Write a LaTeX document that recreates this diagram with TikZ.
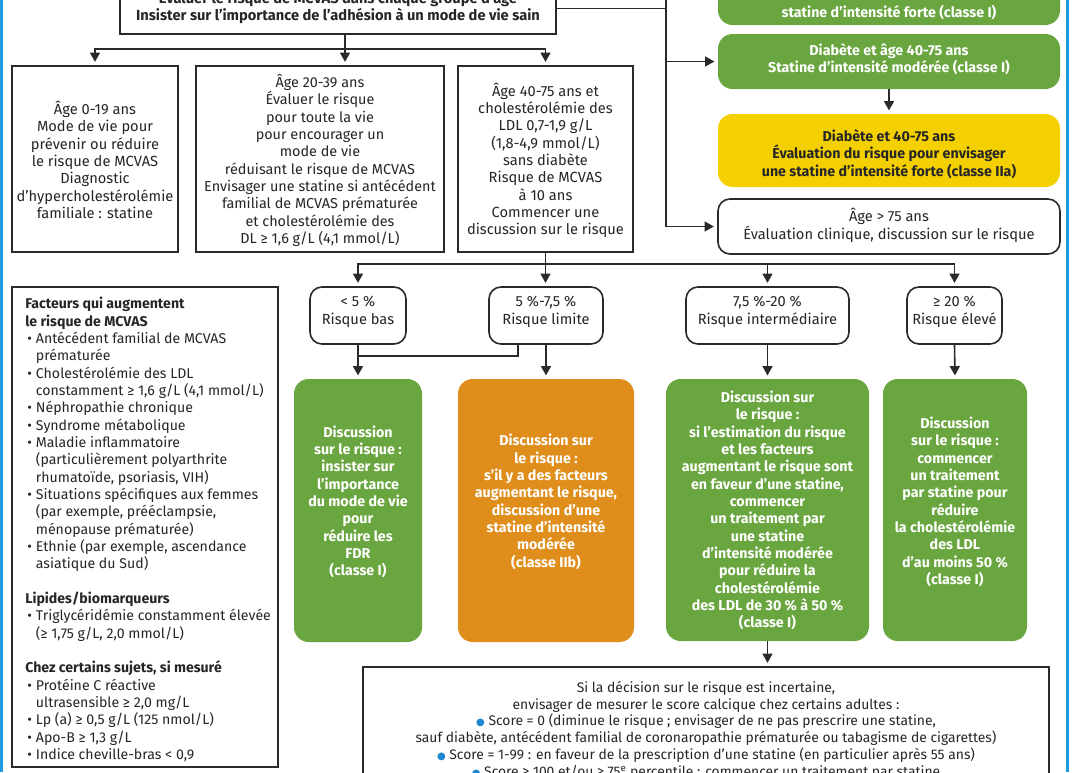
\documentclass[tikz,border=0pt]{standalone}
\usepackage{fontspec}
\setmainfont{Fira Sans}
\newfontfamily\dejavu{DejaVu Sans}
\usetikzlibrary{fit,arrows.meta}
\definecolor{grn}{HTML}{6AA640}
\definecolor{org}{HTML}{DF8E1C}
\definecolor{yel}{HTML}{F5D000}
\definecolor{edgeblue}{HTML}{1E9BE0}
\definecolor{dotblue}{HTML}{1F86CF}
\definecolor{lc}{HTML}{2A2A2A}
\definecolor{tc}{HTML}{262626}
\newcommand{\bdot}{{\dejavu\fontsize{7.5}{9}\selectfont\textcolor{dotblue}{●}}}
\newcommand{\facbul}{\makebox[8pt][l]{\hspace{1.5pt}•}}
\newcommand{\facind}{\makebox[8pt]{}}
\begin{document}
\begin{tikzpicture}[x=0.75pt,y=-0.75pt,
  every node/.style={text=tc},
  base/.style={font=\fontsize{11}{13}\selectfont, align=center, inner sep=0pt},
  sbox/.style={inner sep=0pt, draw=lc, line width=1.2pt},
  rbox/.style={sbox, rounded corners=9pt},
  cbox/.style={inner sep=0pt, rounded corners=11pt, draw=none},
  ctext/.style={base, font=\fontsize{10.7}{13}\selectfont\bfseries, text=white},
  wire/.style={draw=lc, line width=1.2pt},
  arr/.style={wire, -{Triangle[width=7.5pt,length=7pt]}, shorten >=2.5pt}]
\useasboundingbox (0,0) rectangle (1072,772);
\clip (0,0) rectangle (1072,772);
\fill[white] (0,0) rectangle (1072,772);
\fill[edgeblue] (0,0) rectangle (3,772);
\fill[edgeblue] (1066,0) rectangle (1069,772);

% top box
\node[sbox, fit={(120,-21) (556,34)}] (top) {};
\node[base, font=\fontsize{11}{13}\selectfont\bfseries] (topt) at (338,6.5)
  {Évaluer le risque de MCVAS dans chaque groupe d'âge\\Insister sur l'importance de l'adhésion à un mode de vie sain};

% age boxes
\node[sbox, fit={(12,66) (178,252)}] (b1) {};
\node[base] (b1t) at (95,160) {Âge 0-19 ans\\Mode de vie pour\\prévenir ou réduire\\le risque de MCVAS\\Diagnostic\\d'hypercholestérolémie\\familiale : statine};
\node[sbox, fit={(196,66) (444,252)}] (b2) {};
\node[base, font=\fontsize{10.8}{13}\selectfont] (b2t) at (320,160.5) {Âge 20-39 ans\\Évaluer le risque\\pour toute la vie\\pour encourager un\\mode de vie\\réduisant le risque de MCVAS\\Envisager une statine si antécédent\\familial de MCVAS prématurée\\et cholestérolémie des\\DL ≥ 1,6 g/L (4,1 mmol/L)};
\node[sbox, fit={(458,66) (633,252)}] (b3) {};
\node[base] (b3t) at (545.5,160.5) {Âge 40-75 ans et\\cholestérolémie des\\LDL 0,7-1,9 g/L\\(1,8-4,9 mmol/L)\\sans diabète\\Risque de MCVAS\\à 10 ans\\Commencer une\\discussion sur le risque};

% right column
\node[cbox, fill=grn, fit={(718,-30) (1060,25)}] (g0) {};
\node[ctext] (g0t) at (889,12.5) {statine d'intensité forte (classe I)};
\node[cbox, fill=grn, fit={(718,34) (1060,89)}] (g2) {};
\node[ctext] (g2t) at (889,59.5) {Diabète et âge 40-75 ans\\Statine d'intensité modérée (classe I)};
\node[cbox, fill=yel, fit={(718,114) (1060,187)}] (y) {};
\node[ctext, text=tc] (yt) at (889,154) {Diabète et 40-75 ans\\Évaluation du risque pour envisager\\une statine d'intensité forte (classe IIa)};
\node[rbox, fit={(718,199) (1060,254)}] (a75) {};
\node[base] (a75t) at (889,225.5) {Âge > 75 ans\\Évaluation clinique, discussion sur le risque};

% risk boxes
\node[rbox, fit={(310,287) (406,344)}] (r1) {};
\node[base] (r1t) at (358,312) {< 5 \%\\Risque bas};
\node[rbox, fit={(489,287) (603,344)}] (r2) {};
\node[base] (r2t) at (546,312) {5 \%-7,5 \%\\Risque limite};
\node[rbox, fit={(686,287) (849,344)}] (r3) {};
\node[base] (r3t) at (767.5,312) {7,5 \%-20 \%\\Risque intermédiaire};
\node[rbox, fit={(907,287) (1002,344)}] (r4) {};
\node[base] (r4t) at (954.5,312) {≥ 20 \%\\Risque élevé};

% coloured boxes
\node[cbox, fill=grn, fit={(294,379) (422,642)}] (g1) {};
\node[ctext] (g1t) at (358,502) {Discussion\\sur le risque :\\insister sur\\l'importance\\du mode de vie\\pour\\réduire les\\FDR\\(classe I)};
\node[cbox, fill=org, fit={(458,379) (634,642)}] (o2) {};
\node[ctext] (o2t) at (546,502) {Discussion sur\\le risque :\\s'il y a des facteurs\\augmentant le risque,\\discussion d'une\\statine d'intensité\\modérée\\(classe IIb)};
\node[cbox, fill=grn, fit={(666,379) (869,641)}] (g3) {};
\node[ctext] (g3t) at (767.5,510.5) {Discussion sur\\le risque :\\si l'estimation du risque\\et les facteurs\\augmentant le risque sont\\en faveur d'une statine,\\commencer\\un traitement par\\une statine\\d'intensité modérée\\pour réduire la\\cholestérolémie\\des LDL de 30 \% à 50 \%\\(classe I)};
\node[cbox, fill=grn, fit={(883,379) (1027,641)}] (g4) {};
\node[ctext] (g4t) at (955,502) {Discussion\\sur le risque :\\commencer\\un traitement\\par statine pour\\réduire\\la cholestérolémie\\des LDL\\d'au moins 50 \%\\(classe I)};

% factors box
\node[sbox, fit={(12,287) (278,767)}] (fac) {};
\node[base, font=\fontsize{10.6}{13}\selectfont, align=left, anchor=north west] (fact) at (25,297) {%
\textbf{Facteurs qui augmentent}\\
\textbf{le risque de MCVAS}\\
\facbul Antécédent familial de MCVAS\\
\facind prématurée\\
\facbul Cholestérolémie des LDL\\
\facind constamment ≥ 1,6 g/L (4,1 mmol/L)\\
\facbul Néphropathie chronique\\
\facbul Syndrome métabolique\\
\facbul Maladie inflammatoire\\
\facind (particulièrement polyarthrite\\
\facind rhumatoïde, psoriasis, VIH)\\
\facbul Situations spécifiques aux femmes\\
\facind (par exemple, prééclampsie,\\
\facind ménopause prématurée)\\
\facbul Ethnie (par exemple, ascendance\\
\facind asiatique du Sud)\\[13pt]
\textbf{Lipides/biomarqueurs}\\
\facbul Triglycéridémie constamment élevée\\
\facind (≥ 1,75 g/L, 2,0 mmol/L)\\[13pt]
\textbf{Chez certains sujets, si mesuré}\\
\facbul Protéine C réactive\\
\facind ultrasensible ≥ 2,0 mg/L\\
\facbul Lp (a) ≥ 0,5 g/L (125 nmol/L)\\
\facbul Apo-B ≥ 1,3 g/L\\
\facbul Indice cheville-bras < 0,9};

% calcium score box
\node[sbox, fit={(363,667) (1049,800)}] (cal) {};
\node[base, font=\fontsize{10.4}{12.6}\selectfont, anchor=north] (calt) at (706,681) {Si la décision sur le risque est incertaine,\\envisager de mesurer le score calcique chez certains adultes :\\\bdot{} Score = 0 (diminue le risque ; envisager de ne pas prescrire une statine,\\sauf diabète, antécédent familial de coronaropathie prématurée ou tabagisme de cigarettes)\\\bdot{} Score = 1-99 : en faveur de la prescription d'une statine (en particulier après 55 ans)\\\bdot{} Score ≥ 100 et/ou ≥ 75\textsuperscript{e} percentile : commencer un traitement par statine};

% connectors
\coordinate (j0) at (345,49);
\draw[wire] (j0 |- top.south) -- (j0);
\draw[arr] (j0) -| (b1.north);
\draw[arr] (j0) -- (j0 |- b2.north);
\draw[arr] (j0) -| (b3.north);

\coordinate (sp) at (666,8.5);
\coordinate (spt) at (666,-10);
\draw[wire] (top.east |- sp) -- (sp);
\draw[arr] (spt) |- (a75.west);
\draw[arr] (sp) |- (g2.west);
\draw[arr] (g2.south) -- (y.north);

\coordinate (rj) at (546,264);
\draw[arr] (b3.south) -- (b3.south |- r2.north);
\draw[arr] (rj) -| (r1.north);
\draw[arr] (rj) -| (r4.north);
\draw[arr] (r3.north |- rj) -- (r3.north);

\draw[arr] (r1.south) -- (g1.north);
\draw[arr] (r2.south) -- (o2.north);
\draw[arr] (r3.south) -- (g3.north);
\draw[arr] (r4.south) -- (g4.north);
\coordinate (k) at (518,356);
\draw[wire] (k |- r2.south) -- (k) -- (k -| r1.south);
\draw[arr] (g3.south) -- (g3.south |- cal.north);
\end{tikzpicture}
\end{document}
